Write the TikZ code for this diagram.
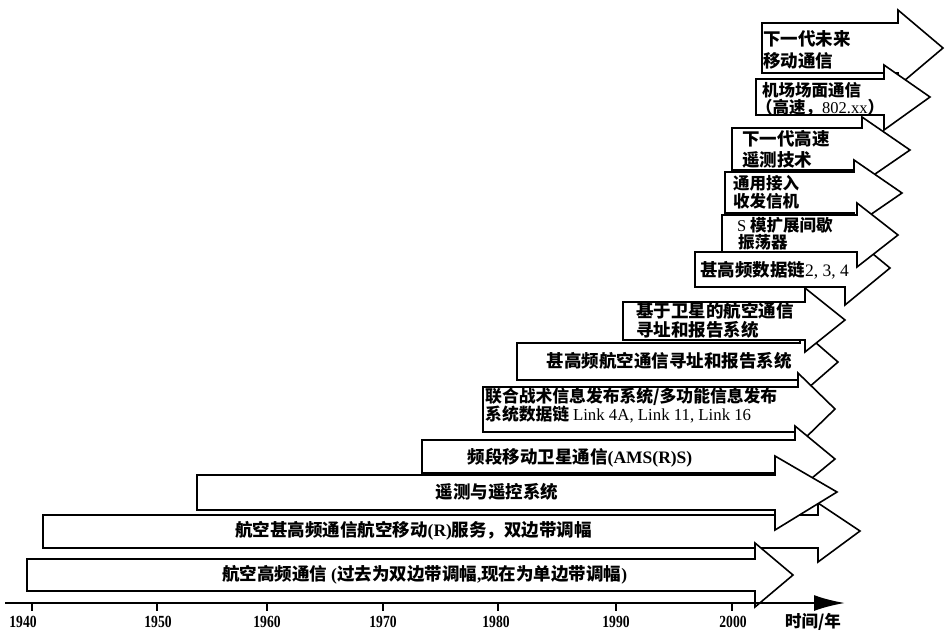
\documentclass[tikz,border=0pt]{standalone}
\usepackage{fontspec}
\usepackage{graphicx}
\usetikzlibrary{arrows.meta}
\setmainfont{Liberation Serif}
\newfontfamily\cjk{Noto Sans CJK SC}
\newcommand\lat[1]{{\rmfamily\mdseries #1}}
\newcommand\latb[1]{{\rmfamily\bfseries #1}}
% #1 left, #2 top, #3 bottom, #4 head base x, #5 head top, #6 head bottom, #7 tip x, #8 tip y
\newcommand\myarrow[8]{\draw[arr] (#1,#2) -- (#4,#2) -- (#4,#5) -- (#7,#8) -- (#4,#6) -- (#4,#3) -- (#1,#3) -- cycle;}
\tikzset{
  arr/.style={draw=black, fill=white, line width=1.6pt, line join=miter},
  lbl/.style={inner sep=0pt, anchor=west, font=\cjk\bfseries\fontsize{17.5}{17.5}\selectfont},
  sml/.style={font=\cjk\bfseries\fontsize{16.5}{16.5}\selectfont},
  yr/.style={inner sep=0pt, font=\bfseries\fontsize{17}{17}\selectfont},
}
\begin{document}
\begin{tikzpicture}[x=1pt,y=-1pt]
\useasboundingbox (0,0) rectangle (945,633);
% 1
\myarrow{762}{23}{73}{898}{10}{86}{943}{48}
\node[lbl] (t1a) at (763,39) {下一代未来};
\node[lbl] (t1b) at (763,61) {移动通信};
% 2
\myarrow{756}{79}{115}{884}{65}{130}{930}{97}
\node[lbl, sml] (t2a) at (762,90) {机场场面通信};
\node[lbl, sml] (t2b) at (756,107.5) {（高速，\lat{802.xx}）};
% 3
\myarrow{732}{128}{170}{862}{117}{183}{910}{150}
\node[lbl] (t3a) at (742,139) {下一代高速};
\node[lbl] (t3b) at (742,160) {遥测技术};
% 4
\myarrow{725}{172}{213}{854}{160}{226}{902}{193}
\node[lbl, sml] (t4a) at (733,183.5) {通用接入};
\node[lbl, sml] (t4b) at (733,201) {收发信机};
% 6
\myarrow{695}{252}{287}{845}{231}{305}{890}{268}
\node[lbl] (t6) at (700,270) {甚高频数据链\lat{2, 3, 4}};
% 5
\myarrow{722}{215}{252}{857}{203}{267}{898}{235}
\node[lbl, sml] (t5a) at (737,225.2) {\lat{S} 模扩展间歇};
\node[lbl, sml] (t5b) at (738,242.4) {振荡器};
% 8
\myarrow{517}{343}{380}{800}{329}{395}{838}{362}
\node[lbl, anchor=east] (t8) at (792,361) {甚高频航空通信寻址和报告系统};
% 7
\myarrow{623}{302}{340}{805}{288}{352}{845}{320}
\node[lbl] (t7a) at (636,311) {基于卫星的航空通信};
\node[lbl] (t7b) at (636,330) {寻址和报告系统};
% 9
\myarrow{483}{387}{432}{798}{373}{445}{835}{409}
\node[lbl, font=\cjk\bfseries\fontsize{16.8}{16.8}\selectfont] (t9a) at (485,397) {联合战术信息发布系统/多功能信息发布};
\node[lbl, font=\cjk\bfseries\fontsize{16.8}{16.8}\selectfont] (t9b) at (485,414) {系统数据链 \lat{Link 4A, Link 11, Link 16}};
% 10
\myarrow{422}{440}{473}{795}{426}{492}{835}{459}
\node[lbl, anchor=center] (t10) at (580,458) {频段移动卫星通信\latb{(AMS(R)S)}};
% 12
\myarrow{43}{515}{548}{818}{503}{562}{860}{531}
\node[lbl] (t12) at (235,531) {航空甚高频通信航空移动\latb{(R)}服务，双边带调幅};
% 11
\myarrow{197}{475}{510}{775}{456}{530}{837}{492}
\node[lbl, anchor=center] (t11) at (497,492) {遥测与遥控系统};
% 13
\myarrow{27}{559}{591}{755}{543}{607}{793}{575}
\node[lbl] (t13) at (222,575) {航空高频通信 \latb{(}过去为双边带调幅\latb{,}现在为单边带调幅\latb{)}};
% axis
\coordinate (a0) at (5,603);
\coordinate (a1) at (845,603);
\draw[line width=2.4pt, -{Latex[length=31pt,width=16pt]}] (a0) -- (a1);
\foreach \x/\lx/\y in {32/23/1940,157/158/1950,267/267/1960,383/383/1970,498/496/1980,616/616/1990,732/733/2000}{
  \draw[line width=2pt] (\x,603) -- (\x,611);
  \node[yr] (y\y) at (\lx,622) {\scalebox{0.8}[1]{\y}};
}
\node[lbl, anchor=center, font=\cjk\bfseries\fontsize{16.5}{16.5}\selectfont] (unit) at (813,622) {时间/年};
\end{tikzpicture}
\end{document}
